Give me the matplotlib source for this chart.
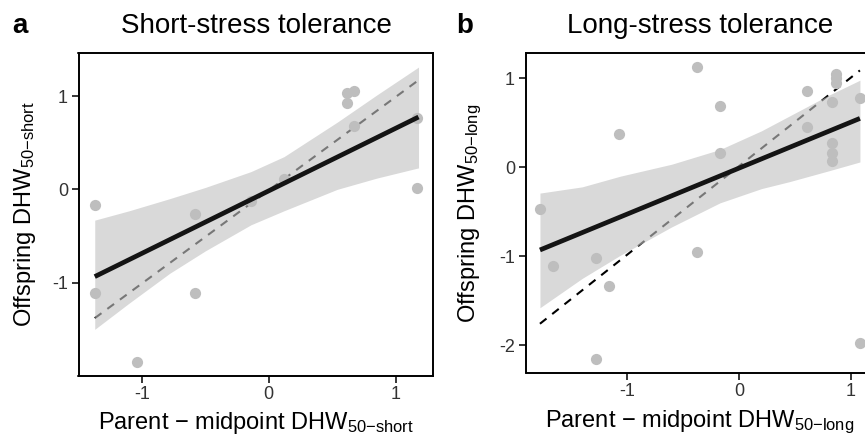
import matplotlib
matplotlib.use("Agg")
import matplotlib.pyplot as plt
from matplotlib.patches import Rectangle

plt.rcParams['font.family'] = ['Liberation Sans', 'DejaVu Sans']
plt.rcParams['mathtext.fontset'] = 'custom'
plt.rcParams['mathtext.rm'] = 'Liberation Sans'
plt.rcParams['mathtext.it'] = 'Liberation Sans:italic'
plt.rcParams['mathtext.bf'] = 'Liberation Sans:bold'
plt.rcParams['axes.unicode_minus'] = False

# panel a - short-stress tolerance
a_x = [-1.37, -1.37, -1.036, -0.58, -0.58, -0.14, 0.12, 0.617, 0.67, 0.617, 0.67, 1.17, 1.17]
a_y = [-0.17, -1.11, -1.85, -0.26, -1.11, -0.13, 0.11, 1.03, 1.05, 0.93, 0.68, 0.76, 0.01]
a_fit_x = [-1.37, 1.18]
a_fit_y = [-0.935, 0.775]
a_ref_x = [-1.37, 1.18]
a_ref_y = [-1.38, 1.17]
a_band_x = [-1.37, -1.1, -0.78, -0.5, -0.14, 0.12, 0.54, 0.85, 1.18]
a_band_hi = [-0.33, -0.23, -0.10, 0.02, 0.19, 0.35, 0.72, 1.01, 1.31]
a_band_lo = [-1.50, -1.22, -0.90, -0.66, -0.38, -0.23, 0.0, 0.12, 0.23]

# panel b - long-stress tolerance
b_x = [-0.378, -1.071, -0.17, -0.17, 0.604, 0.604, 0.866, 0.866, 0.866, 0.83,
       0.83, 0.83, 0.83, 1.08, 1.08, -1.777, -1.658, -1.277, -1.158, -0.378, -1.277]
b_y = [1.13, 0.37, 0.69, 0.16, 0.86, 0.45, 1.05, 1.0, 0.95, 0.73,
       0.27, 0.165, 0.075, 0.776, -1.98, -0.47, -1.11, -1.02, -1.33, -0.956, -2.157]
b_fit_x = [-1.777, 1.08]
b_fit_y = [-0.93, 0.55]
b_ref_x = [-1.777, 1.08]
b_ref_y = [-1.76, 1.09]
b_band_x = [-1.777, -1.4, -1.06, -0.6, -0.17, 0.2, 0.455, 0.8, 1.08]
b_band_hi = [-0.29, -0.22, -0.1, 0.035, 0.2, 0.41, 0.58, 0.81, 0.98]
b_band_lo = [-1.58, -1.25, -0.99, -0.67, -0.40, -0.24, -0.16, -0.04, 0.06]

W, H = 865, 436
fig = plt.figure(figsize=(W / 100, H / 100), dpi=100)


def add_ax(l, t, r, b):
    return fig.add_axes([l / W, 1 - b / H, (r - l) / W, (b - t) / H])


def panel(ax, x, y, bx, hi, lo, fx, fy, rx, ry):
    ax.plot(rx, ry, color='black', lw=1.5, dashes=(4, 3.5), zorder=1)
    ax.fill_between(bx, lo, hi, color='#c2c2c2', alpha=0.62, lw=0, zorder=2)
    ax.scatter(x, y, s=65, color='#bebebe', lw=0, zorder=3)
    ax.plot(fx, fy, color='#141414', lw=3.4, solid_capstyle='butt', zorder=4)
    for s in ax.spines.values():
        s.set_linewidth(1.2)
        s.set_color('black')
    # full panel border
    ax.add_patch(Rectangle((0, 0), 1, 1, transform=ax.transAxes, fill=False,
                           edgecolor='black', lw=1.2, clip_on=False, zorder=6))
    ax.tick_params(length=5, width=1.1, pad=2.5, labelsize=13, labelcolor='#333333')


ax1 = add_ax(78.5, 53, 433, 376)
panel(ax1, a_x, a_y, a_band_x, a_band_hi, a_band_lo, a_fit_x, a_fit_y, a_ref_x, a_ref_y)
ax1.set_xlim(-1.498, 1.294)
ax1.set_ylim(-2.0, 1.461)
ax1.set_xticks([-1, 0, 1])
ax1.set_yticks([-1, 0, 1])

ax2 = add_ax(525.5, 53, 870, 373)
panel(ax2, b_x, b_y, b_band_x, b_band_hi, b_band_lo, b_fit_x, b_fit_y, b_ref_x, b_ref_y)
ax2.set_xlim(-1.906, 1.17)
ax2.set_ylim(-2.314, 1.286)
ax2.set_xticks([-1, 0, 1])
ax2.set_yticks([-2, -1, 0, 1])

# titles and panel letters
fig.text(256 / W, 1 - 33 / H, 'Short-stress tolerance', ha='center', va='baseline', fontsize=20)
fig.text(700 / W, 1 - 33 / H, 'Long-stress tolerance', ha='center', va='baseline', fontsize=20)
fig.text(12 / W, 1 - 33 / H, 'a', ha='left', va='baseline', fontsize=20, fontweight='bold')
fig.text(456 / W, 1 - 33 / H, 'b', ha='left', va='baseline', fontsize=20, fontweight='bold')

# axis labels
fig.text(256 / W, 1 - 429 / H, 'Parent \u2212 midpoint DHW$_{\\mathregular{50{-}short}}$',
         ha='center', va='baseline', fontsize=17)
fig.text(700 / W, 1 - 427 / H, 'Parent \u2212 midpoint DHW$_{\\mathregular{50{-}long}}$',
         ha='center', va='baseline', fontsize=17)
fig.text(25 / W, 1 - 214 / H, 'Offspring DHW$_{\\mathregular{50{-}short}}$',
         ha='center', va='center', rotation=90, fontsize=17)
fig.text(470 / W, 1 - 213 / H, 'Offspring DHW$_{\\mathregular{50{-}long}}$',
         ha='center', va='center', rotation=90, fontsize=17)

fig.savefig('out.png', dpi=100)
